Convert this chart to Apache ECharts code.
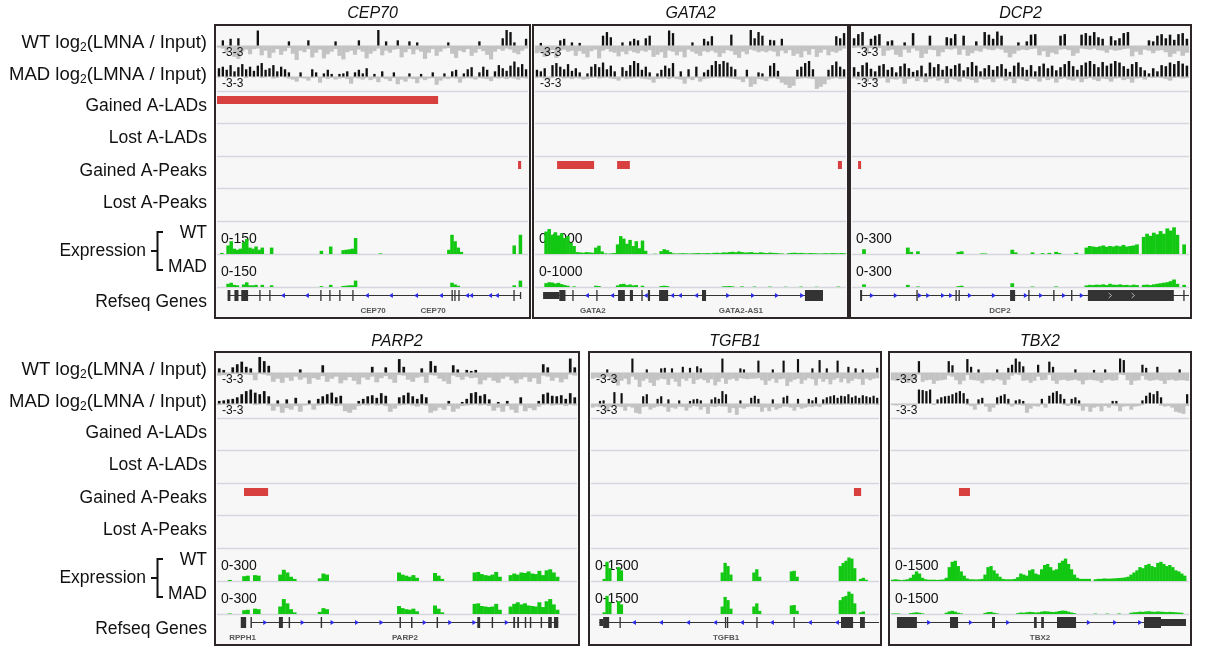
<!DOCTYPE html>
<html>
<head>
<meta charset="utf-8">
<script src="https://cdn.jsdelivr.net/npm/echarts@6/dist/echarts.min.js"></script>
<style>
html,body{margin:0;padding:0;background:#fff;}
#chart{width:1211px;height:646px;}
</style>
</head>
<body>
<div id="chart"></div>
<script>
// ---------------- data ----------------
const geneTitles = ['CEP70', 'GATA2', 'DCP2', 'PARP2', 'TGFB1', 'TBX2'];
const log2Range = [-3, 3];
const log2RangeLabel = '-3-3';
const exprMax = [150, 1000, 300, 300, 1500, 1500];
const exprRangeLabels = ['0-150', '0-1000', '0-300', '0-300', '0-1500', '0-1500'];
const trackNames = ['Gained A-LADs', 'Lost A-LADs', 'Gained A-Peaks', 'Lost A-Peaks'];

// log2(LMNA / Input), 80 windows per locus: positive part and negative part per window
const cep70WtUp = [0,1.0,0,1.3,0,1.4,0,0,0,0, 2.9,0,0,0,0,0,0,0,0.8,0, 0,0,0,1.0,0,0,0,0,0,0, 0.8,0,0,0,0,0,1.0,0,0,0, 0,3.0,0,0.8,0,0,1.0,0,0,0.8, 0,0.6,0,0,0,0,0,0,0,0.6, 0,0,0,0,0,0,0,0.8,0,0, 0,0,0,1.4,3.0,2.6,0.6,0,0,1.3];
const cep70WtDown = [-0.4,-0.6,-1.4,-0.7,-2.2,-2.6,-1.2,-0.8,-1.7,-0.7, -0.6,-1.9,-1.0,-2.4,-1.4,-0.7,-1.8,-1.1,-0.5,-1.6, -2.8,-1.0,-1.3,-0.7,-2.3,-1.4,-0.8,-2.5,-1.7,-1.2, -0.7,-2.0,-2.7,-1.3,-1.0,-1.8,-0.8,-1.2,-2.5,-1.6, -1.1,-0.6,-1.9,-1.0,-1.4,-0.8,-0.7,-2.3,-1.3,-0.7, -1.7,-0.8,-1.2,-2.6,-1.4,-0.7,-2.0,-1.2,-0.6,-0.5, -1.6,-2.4,-1.0,-1.3,-0.7,-2.0,-1.4,-0.7,-1.1,-1.8, -2.7,-1.2,-0.7,-1.0,-0.6,-0.8,-1.4,-1.7,-1.0,-0.6];
const cep70MadUp = [1.6,1.9,1.3,2.2,1.0,1.8,2.4,1.4,1.9,1.1, 2.1,2.6,1.3,1.6,2.2,1.0,1.9,1.4,0.8,0, 0,0.8,0,0,1.4,0.8,0,0.6,1.3,0.5, 0,0.5,0.6,1.0,0,0.8,1.3,0.6,1.6,0, 0.5,0,1.0,0,0,0.8,0,0,0,0.6, 0,0,0.5,0,0,0.8,0,0,0.6,0, 1.0,1.3,0,0.6,1.4,1.8,0,0.8,1.9,1.3, 0,1.0,2.2,1.6,1.1,2.1,2.9,1.8,2.4,1.4];
const cep70MadDown = [-0.2,0,-0.3,0,-0.2,0,0,-0.3,0,-0.2, 0,-0.3,-0.2,0,-0.4,-0.3,0,-0.2,-0.4,-0.6, -1.0,-0.3,-0.4,-0.8,-0.3,-0.2,-1.2,-0.3,-0.5,-0.3, -0.6,-0.4,-0.3,-0.5,-1.4,-0.3,-0.4,-0.6,-0.3,-0.7, -0.4,-1.1,-0.3,-0.5,-0.9,-0.3,-1.5,-0.6,-1.0,-0.4, -0.5,-1.3,-0.4,-0.7,-0.4,-0.3,-1.6,-0.8,-0.4,-0.5, -0.3,-0.4,-1.2,-0.4,-0.3,-0.4,-0.6,-0.3,-0.4,-0.5, -0.9,-0.3,-0.4,-0.3,-0.5,-0.3,-0.4,-0.6,-0.3,-0.4];

const gata2WtUp = [0,0.5,0,0,0,0,1.0,1.3,0,0.6, 0,0.5,0,0,0,0,0,1.9,2.6,1.6, 0,0,0.6,0,0.8,1.3,1.0,0,1.4,1.9, 0,0,0,0,2.9,2.4,0,0,0,0, 0.6,0,0,1.3,0.8,1.8,0,0,0,0, 2.1,0,0,0,0,3.0,1.4,2.6,1.9,0, 1.1,1.0,0,1.3,0,0,0,0,0,0, 0,0,0,0,0,0,0,1.8,1.4,2.4];
const gata2WtDown = [-1.5,-1.2,-2.2,-1.8,-0.9,-2.4,-1.0,-0.8,-1.2,-1.0, -2.0,-1.1,-1.6,-2.3,-1.1,-0.8,-2.5,-1.0,-0.7,-1.2, -1.4,-2.1,-1.2,-1.7,-1.0,-1.3,-1.5,-1.0,-1.2,-0.9, -2.2,-1.8,-1.3,-2.4,-1.0,-1.2,-1.9,-1.2,-2.3,-0.8, -1.2,-1.6,-2.0,-1.1,-1.3,-1.0,-1.4,-2.2,-1.5,-0.9, -1.1,-1.8,-2.4,-1.2,-1.7,-0.8,-1.0,-1.3,-1.1,-1.3, -1.0,-1.2,-2.1,-1.0,-1.5,-0.9,-2.0,-1.6,-2.3,-1.1, -1.8,-0.7,-2.2,-1.4,-0.8,-1.9,-1.2,-1.4,-1.0,-0.6];
const gata2MadUp = [1.3,1.0,1.6,0,2.2,2.6,1.9,1.4,2.4,1.1, 1.6,0.8,0,0.6,1.9,2.4,1.8,2.7,1.4,2.1, 1.0,0,1.8,1.1,2.2,3.0,2.6,1.3,1.9,0.8, 0,0.6,1.3,2.1,1.6,2.6,0,1.0,0,1.4, 0,1.9,0,0.8,1.3,2.2,3.0,2.4,3.0,2.7, 1.9,1.4,0,0,1.3,0,0,0.8,0.6,0, 2.1,2.6,1.1,0,0,0,0,1.3,1.9,2.6, 3.0,1.4,0,0,0,1.3,2.2,2.9,1.9,1.4];
const gata2MadDown = [-0.3,-0.2,-0.4,-0.6,-0.3,0,-0.2,-0.4,-0.3,-0.5, -0.3,-0.4,-0.6,-0.5,-0.3,-0.2,-0.4,-0.3,-0.2,-0.4, -0.5,-0.8,-0.3,-0.5,-0.4,-0.3,-0.2,-0.4,-0.5,-0.6, -1.2,-0.5,-0.4,-0.3,-0.5,-0.3,-0.5,-0.6,-1.4,-0.4, -0.7,-0.3,-1.0,-0.5,-0.4,-0.3,-0.2,-0.3,-0.2,-0.3, -0.4,-0.5,-0.6,-1.1,-0.4,-2.0,-1.5,-0.5,-0.6,-0.9, -0.4,-0.3,-0.5,-1.2,-1.6,-2.2,-1.8,-0.5,-0.4,-0.3, -0.4,-0.5,-2.4,-2.0,-1.5,-0.6,-0.4,-0.3,-0.5,-0.4];

const dcp2WtUp = [1.4,2.2,2.6,0,1.3,1.9,2.2,0,0.8,1.0, 0,0,0.6,0,2.4,0,0,0,1.9,0, 0,0,1.6,1.4,2.2,0,1.9,0,0,0.8, 0,2.6,2.1,1.3,2.7,1.9,0,0,0,0.6, 0,0.8,2.1,2.2,0,0,0,0,0,1.9, 2.2,0,0,0,2.1,2.4,1.9,2.6,1.6,1.3, 0,1.8,1.0,1.4,2.4,2.6,0,0,0,0, 1.0,0.8,1.9,2.2,1.4,2.1,1.1,2.2,2.4,1.3];
const dcp2WtDown = [-0.5,-0.4,-0.6,-1.5,-0.5,-0.6,-0.5,-2.0,-1.0,-0.8, -1.8,-2.2,-0.8,-1.4,-0.6,-1.0,-2.4,-1.6,-0.8,-0.9, -2.1,-1.3,-0.7,-0.8,-0.6,-1.8,-0.8,-2.0,-1.5,-1.0, -1.2,-0.6,-0.8,-0.9,-0.6,-0.8,-1.4,-2.3,-1.6,-1.0, -0.8,-0.9,-0.7,-0.6,-1.9,-1.1,-2.2,-1.4,-1.7,-0.8, -0.7,-0.9,-2.0,-1.5,-0.6,-0.7,-0.8,-0.6,-0.9,-1.0, -1.4,-0.8,-1.0,-0.9,-0.7,-0.6,-2.1,-1.2,-1.8,-0.8, -1.0,-1.5,-1.0,-0.9,-1.3,-2.2,-1.6,-1.1,-2.0,-1.4];
const dcp2MadUp = [1.8,0.9,2.2,2.7,1.5,1.0,2.1,2.4,1.3,1.8, 0.8,2.0,2.5,1.6,0.9,1.2,2.1,0.6,2.7,1.8, 2.4,1.3,2.0,1.5,2.2,2.5,1.2,1.8,2.8,2.1, 1.0,1.6,2.2,1.3,2.0,2.4,1.5,0.9,2.1,2.7, 1.8,1.3,2.2,1.0,2.0,2.5,1.6,2.1,1.2,1.8, 2.4,3.0,2.0,1.3,2.2,2.7,3.0,2.4,1.8,2.8, 2.1,2.5,3.0,2.7,2.0,1.5,2.4,2.8,1.8,1.2, 0.6,1.6,1.0,2.2,2.0,2.7,2.4,3.0,2.5,2.1];
const dcp2MadDown = [-0.4,-0.6,-0.3,-1.0,-0.5,-0.8,-0.4,-0.3,-1.2,-0.5, -0.6,-0.4,-1.4,-0.5,-0.3,-0.9,-0.4,-1.1,-0.5,-0.3, -0.8,-0.5,-1.3,-0.4,-0.6,-1.0,-0.3,-0.5,-0.7,-1.2, -0.4,-0.6,-0.5,-1.1,-0.4,-0.3,-0.8,-0.5,-1.3,-0.4, -0.6,-0.9,-0.4,-0.5,-1.0,-0.3,-0.7,-0.4,-1.2,-0.5, -0.3,-0.6,-0.8,-0.4,-1.1,-0.5,-0.3,-0.6,-0.9,-0.4, -0.5,-1.0,-0.4,-0.3,-0.7,-0.5,-1.2,-0.4,-0.3,-0.6, -0.2,-0.3,-0.2,-0.3,-0.5,-0.8,-0.3,-0.2,-0.4,-0.3];

const parp2WtUp = [0.8,0.5,0,1.0,1.6,2.1,1.1,0.8,0,3.0, 2.2,1.3,0,0,0,0,0,0,0.6,0, 0,0,0,1.4,0,0,0,0,0,0, 0,0,0,0,1.1,0,0,1.0,0,0, 2.6,1.1,0,0,0,0.8,0,2.2,1.3,0, 0,0,1.4,0.6,0,0.5,0.3,0.5,0,0, 0,0,0,0,0,0,0,0,0,0, 0,0,1.6,1.0,0,0,0,0,2.7,1.0];
const parp2WtDown = [-0.6,-0.5,-0.4,-0.3,-0.3,-0.3,-0.4,-0.5,-1.5,-0.3, -0.4,-0.6,-1.8,-1.2,-2.0,-1.0,-1.6,-0.8,-1.4,-1.0, -2.2,-1.1,-1.4,-0.7,-1.8,-1.2,-0.8,-2.1,-1.5,-0.9, -1.6,-2.3,-1.0,-1.4,-0.8,-1.9,-1.1,-0.7,-1.3,-2.0, -0.5,-0.6,-1.4,-1.8,-1.0,-0.8,-2.0,-0.5,-0.6,-1.2, -1.7,-2.2,-0.6,-0.9,-1.4,-0.8,-1.1,-1.0,-2.3,-1.5, -1.0,-1.6,-2.0,-1.2,-0.8,-1.5,-2.1,-1.3,-0.9,-1.8, -1.1,-2.2,-0.6,-0.8,-1.6,-1.0,-1.9,-1.3,-0.4,-0.6];
const parp2MadUp = [0.5,0.6,0.8,0.9,1.2,1.8,2.4,2.7,2.1,1.8, 2.4,1.4,0,0.6,0,0.8,0,1.1,0,0, 0.6,0,0.9,1.4,1.8,2.1,1.2,1.5,0,0, 0,0.5,0.9,1.4,1.6,1.1,2.0,1.5,0,0, 1.2,1.6,2.1,1.4,0.9,1.8,1.2,0,0,0, 0,0.5,0,0,0.3,0.9,2.0,2.2,1.5,1.8, 0.8,0,0.3,0,0.5,0,0,1.2,0,0, 0,0.5,1.8,2.1,1.5,1.4,1.6,0.9,2.0,1.2];
const parp2MadDown = [-0.3,-0.2,-0.3,-0.2,-0.2,0,0,0,-0.3,-0.2, 0,-0.4,-1.4,-0.6,-1.8,-0.9,-1.2,-0.5,-1.6,-0.4, -0.3,-1.2,-0.4,-0.3,-0.2,-0.3,-0.5,-0.4,-1.5,-1.8, -1.2,-0.5,-0.3,-0.4,-0.2,-0.4,-0.3,-0.5,-1.6,-1.0, -0.4,-0.3,-0.2,-0.4,-0.6,-0.3,-0.4,-1.8,-1.4,-0.8, -1.2,-0.5,-1.6,-1.0,-0.5,-0.4,-0.3,-0.2,-0.4,-0.3, -0.5,-1.4,-0.8,-1.6,-0.5,-1.2,-1.8,-0.4,-1.5,-0.9, -1.3,-0.6,-0.3,-0.2,-0.4,-0.3,-0.3,-0.5,-0.3,-0.4];

const tgfb1WtUp = [0,0,0,0,0.6,0,0,0,0,0, 0,2.7,0,0,0,0.6,0,0,0,0.8, 0.9,0,0.8,0,0,1.1,0,0.9,0,1.2, 0.8,0,0,0,0,0,2.7,0,0,0, 0,0.8,0.6,0,0,0,2.3,0,0,0, 0.6,0,0,2.3,0,0,0,2.6,0,0, 0,0.8,0,2.4,0,0.8,0,0,2.3,0, 0,1.1,0,0.8,0,0.6,0,0,0,0.9];
const tgfb1WtDown = [-1.2,-1.0,-1.1,-1.2,-0.8,-1.3,-1.8,-2.5,-1.6,-1.2, -2.3,-0.8,-1.4,-2.8,-1.6,-1.2,-2.0,-2.6,-1.5,-1.2, -1.3,-2.4,-1.2,-1.8,-2.7,-1.2,-1.6,-1.1,-2.2,-1.4, -1.2,-1.5,-2.0,-1.3,-2.5,-1.8,-1.1,-2.2,-1.4,-1.2, -1.6,-1.1,-1.2,-1.3,-1.2,-1.2,-1.1,-1.5,-2.4,-1.6, -1.2,-2.0,-1.3,-1.2,-2.6,-1.8,-1.4,-1.2,-2.2,-1.5, -1.1,-1.3,-2.5,-1.2,-1.8,-1.3,-2.3,-1.4,-1.1,-1.9, -1.2,-2.1,-1.6,-1.2,-1.3,-2.4,-1.2,-1.5,-1.2,-1.1];
const tgfb1MadUp = [0,0,0.5,0.6,0,0,2.2,0,2.0,0, 0,0,0,0,1.4,1.8,0,0,0.9,1.4, 0,0.8,0,0,0.6,0,0,0.5,0.8,0.9, 0.6,0,0,0.8,1.2,0.9,2.4,1.8,0,0, 0,0.6,0,0,1.1,1.5,0.9,0,0,0, 0.8,0,0,1.2,1.5,0,0,0.9,0,0, 0.9,0.6,1.2,0,0.8,1.2,1.4,1.6,1.1,1.5, 1.4,1.8,1.2,1.5,1.1,1.6,1.4,1.2,1.5,1.1];
const tgfb1MadDown = [-0.8,-0.6,-0.7,-0.6,-1.5,-0.7,-0.5,-0.6,-0.7,-1.4, -0.6,-0.8,-1.8,-2.0,-0.7,-0.6,-1.2,-0.8,-0.6,-0.5, -0.7,-1.6,-0.8,-1.0,-0.6,-0.7,-1.4,-0.8,-0.5,-0.6, -1.2,-0.7,-2.0,-0.6,-0.7,-0.5,-0.6,-0.6,-1.8,-0.9, -2.2,-0.8,-1.0,-0.7,-0.6,-0.6,-0.7,-1.6,-0.8,-1.5, -0.7,-1.2,-0.9,-0.6,-0.6,-0.8,-1.4,-0.7,-1.0,-0.8, -0.6,-0.7,-0.5,-0.7,-0.3,-0.3,-0.2,-0.3,-0.2,-0.3, -0.2,-0.2,-0.3,-0.2,-0.3,-0.2,-0.3,-0.2,-0.2,-0.3];

const tbx2WtUp = [0,0,0,0,0,0,0,2.2,0,0, 0,0,0,0,0,2.2,1.4,0,0,0, 2.6,1.1,0,0.6,0,0,0,0,0.6,0, 0,0.9,1.5,2.7,2.1,1.2,0,0,0,1.5, 0,0,2.1,1.1,0,0,0,0,0,0.6, 0,0,0,0,0.5,0,0,0.6,0,0, 0,2.7,2.4,0,0,0,0,1.5,0.9,0, 0,1.1,0,0,0,0,0,0.6,0,0];
const tbx2WtDown = [-1.5,-1.6,-1.4,-1.5,-2.0,-1.6,-1.4,-0.4,-1.8,-1.5, -1.4,-2.2,-1.6,-1.5,-1.4,-0.6,-0.8,-1.5,-2.3,-1.6, -0.5,-1.4,-1.5,-1.6,-2.1,-1.5,-1.4,-1.6,-1.3,-1.5, -2.4,-1.4,-0.6,-0.3,-0.5,-1.6,-1.5,-2.0,-1.6,-0.8, -1.5,-1.4,-0.5,-1.6,-2.2,-1.5,-1.4,-1.6,-1.5,-1.4, -1.6,-2.3,-1.5,-1.4,-1.5,-1.6,-2.0,-1.5,-1.4,-1.6, -1.5,-0.4,-0.5,-1.5,-2.4,-1.6,-1.5,-0.7,-1.4,-1.6, -1.5,-1.4,-1.6,-2.2,-1.5,-1.4,-1.6,-1.5,-1.5,-1.6];
const tbx2MadUp = [0,0,0,0,0,0,0,2.7,2.6,2.4, 2.7,0,0.8,1.2,1.4,1.5,1.8,2.1,2.4,2.0, 0.9,0,0,0.8,1.1,0,0,0,1.2,1.5, 1.8,0.9,0,0.6,0.8,0.5,0,0,0,0, 0.9,0,1.5,2.1,2.4,1.8,0.9,0,0.9,1.2, 0.6,0,0,0,0,0,0,0,0,0.5, 0.5,0,0,0,0,0,0,0.6,1.5,2.1, 1.8,2.4,1.2,0,0,0,0,0,0,1.8];
const tbx2MadDown = [-0.3,-0.4,-0.3,-0.2,-0.4,-0.3,-0.5,0,0,0, 0,-0.3,0,0,0,0,0,0,0,0, -0.3,-0.5,-1.2,-0.3,0,-0.6,-1.6,-0.8,-0.3,0, 0,-0.3,-0.6,-0.3,-0.3,-0.4,-1.8,-1.0,-0.5,-0.6, -0.3,-0.8,0,0,0,0,-0.3,-0.5,-0.3,-0.4, -0.5,-1.4,-0.6,-1.6,-0.8,-0.6,-1.5,-0.5,-0.8,-0.4, -0.5,-1.5,-0.6,-0.5,-1.2,-0.6,-0.5,-0.3,0,0, 0,0,-0.4,-0.6,-0.5,-0.8,-1.6,-1.8,-2.0,-0.5];

// RNA-seq coverage: [bin (0-99 across the locus), reads]
const cep70ExprWT = [[1,5],[3,40],[4,60],[5,25],[6,20],[7,25],[8,55],[9,70],[10,30],[11,25],[12,35],[13,20],[14,30],[17,30],[33,15],[36,35],[40,18],[41,20],[42,22],[43,25],[44,75],[52,3],[74,20],[75,90],[76,60],[77,30],[78,10],[95,40],[97,90]];
const cep70ExprMAD = [[3,15],[4,20],[5,10],[6,8],[8,12],[9,22],[10,8],[11,8],[12,10],[14,10],[17,8],[33,4],[36,10],[40,5],[41,6],[42,8],[43,8],[44,30],[75,20],[76,12],[77,6],[95,8],[97,30]];
const gata2ExprWT = [[3,700],[4,780],[5,600],[6,680],[7,580],[8,650],[9,500],[10,560],[11,350],[12,250],[13,60],[14,50],[15,40],[16,60],[17,50],[18,40],[19,200],[20,260],[21,80],[22,20],[23,10],[24,20],[25,30],[26,300],[27,560],[28,480],[29,320],[30,440],[31,250],[32,400],[33,180],[34,420],[35,100],[38,10],[40,90],[41,150],[42,120],[43,60],[44,20],[45,15],[46,20],[47,25],[48,20],[49,15],[50,20],[51,25],[52,30],[53,20],[54,25],[55,30],[56,20],[57,35],[58,40],[59,30],[60,50],[61,45],[62,60],[63,70],[64,55],[65,80],[66,60],[67,45],[68,50],[69,60],[70,40],[71,35],[72,55],[73,40],[74,30],[75,45],[76,35],[77,30],[78,20],[79,15],[81,25],[82,35],[83,40],[84,30],[85,35],[86,25],[87,20],[88,30],[89,25],[90,20],[91,15],[92,20],[93,25],[94,20],[95,30],[96,25],[97,20],[98,30],[99,20]];
const gata2ExprMAD = [[3,120],[4,150],[5,140],[6,110],[7,130],[8,90],[9,60],[10,40],[12,20],[19,40],[20,30],[26,50],[27,90],[28,100],[29,60],[30,80],[31,50],[32,60],[34,40],[40,30],[41,40],[42,30],[60,20],[61,25],[62,30],[63,20],[66,20],[70,15],[75,15],[80,10],[85,15],[90,10],[97,15]];
const dcp2ExprWT = [[3,45],[16,60],[17,20],[19,25],[31,20],[32,25],[38,5],[39,5],[47,40],[48,15],[53,15],[56,8],[58,10],[60,20],[61,10],[66,12],[69,60],[70,75],[71,70],[72,65],[73,72],[74,80],[75,68],[76,75],[77,70],[78,78],[79,72],[80,85],[81,70],[82,75],[83,80],[84,90],[86,160],[87,190],[88,170],[89,200],[90,185],[91,215],[92,190],[93,240],[94,220],[95,250],[96,180],[98,90]];
const dcp2ExprMAD = [[3,25],[16,20],[19,5],[31,8],[32,12],[47,35],[53,5],[60,6],[69,15],[70,20],[71,18],[72,22],[73,20],[74,25],[75,18],[76,30],[77,22],[78,20],[79,25],[80,18],[81,20],[82,15],[83,22],[84,18],[86,20],[87,22],[88,18],[89,25],[90,30],[91,35],[92,40],[93,45],[94,55],[95,70],[96,30],[98,20]];
const parp2ExprWT = [[3,10],[7,45],[8,50],[10,55],[11,50],[17,60],[18,105],[19,80],[20,40],[21,20],[28,25],[29,70],[30,60],[50,80],[51,60],[52,50],[53,40],[54,55],[55,30],[60,75],[61,50],[62,20],[71,80],[72,85],[73,65],[74,55],[75,50],[76,60],[77,85],[78,40],[81,55],[82,70],[83,60],[84,80],[85,75],[86,90],[87,70],[88,65],[89,95],[90,55],[91,100],[92,110],[93,80],[94,40]];
const parp2ExprMAD = [[3,5],[7,35],[8,40],[10,50],[11,45],[17,70],[18,140],[19,100],[20,45],[21,15],[28,20],[29,55],[30,45],[50,75],[51,55],[52,45],[53,40],[54,50],[55,25],[60,80],[61,50],[62,15],[71,95],[72,100],[73,75],[74,70],[75,65],[76,70],[77,95],[78,40],[81,70],[82,95],[83,110],[84,90],[85,100],[86,80],[87,75],[88,70],[89,110],[90,65],[91,120],[92,140],[93,90],[94,40]];
const tgfb1ExprWT = [[4,100],[5,900],[6,600],[9,650],[10,500],[45,400],[46,850],[47,700],[48,300],[56,400],[57,550],[58,200],[69,450],[70,480],[71,200],[86,700],[87,850],[88,950],[89,1100],[90,1050],[91,600],[93,100],[94,150],[95,60]];
const tgfb1ExprMAD = [[4,80],[5,850],[6,550],[9,600],[10,450],[45,350],[46,800],[47,650],[48,250],[56,350],[57,500],[58,150],[69,400],[70,420],[71,150],[86,650],[87,800],[88,850],[89,1050],[90,950],[91,500],[93,80],[94,120]];
const tbx2ExprWT = [[0,60],[1,80],[2,60],[3,40],[4,60],[5,80],[6,150],[7,300],[8,450],[9,350],[10,150],[11,80],[12,60],[13,60],[14,60],[15,50],[16,60],[17,70],[18,150],[19,650],[20,900],[21,950],[22,700],[23,450],[24,250],[25,120],[26,80],[27,80],[28,70],[29,80],[30,100],[31,300],[32,650],[33,700],[34,500],[35,350],[36,200],[37,100],[38,80],[39,80],[40,80],[41,100],[42,180],[43,350],[44,300],[45,250],[46,500],[47,550],[48,350],[49,300],[50,550],[51,750],[52,800],[53,650],[54,500],[55,550],[56,850],[57,950],[58,1050],[59,800],[60,550],[61,300],[62,150],[63,100],[64,100],[65,100],[66,100],[68,80],[69,100],[70,100],[71,120],[72,110],[73,110],[74,120],[75,130],[76,140],[77,150],[78,170],[79,200],[80,300],[81,400],[82,500],[83,650],[84,600],[85,750],[86,800],[87,700],[88,650],[89,850],[90,900],[91,800],[92,700],[93,750],[94,650],[95,500],[96,450],[97,350],[98,250]];
const tbx2ExprMAD = [[0,20],[1,25],[2,20],[6,40],[7,60],[8,80],[9,60],[10,30],[18,60],[19,120],[20,150],[21,110],[22,60],[23,30],[31,50],[32,90],[33,100],[34,60],[35,30],[42,40],[43,70],[44,60],[45,80],[46,100],[47,90],[48,70],[49,80],[50,110],[51,130],[52,120],[53,100],[54,90],[55,110],[56,140],[57,160],[58,150],[59,110],[60,70],[61,40],[68,20],[72,20],[76,25],[80,60],[81,80],[82,90],[83,110],[84,100],[85,120],[86,130],[87,110],[88,100],[89,120],[90,110],[91,100],[92,90],[93,100],[94,90],[95,80],[96,70],[97,60]];

// differential A-LAD / A-peak calls: [start, end] in locus percent
const cep70GainedLads = [[0, 71.1]];
const cep70GainedPeaks = [[96.8, 97.8]];
const gata2GainedPeaks = [[7.1, 19.0], [26.4, 30.5], [97.4, 98.7]];
const dcp2GainedPeaks = [[1.8, 2.7]];
const parp2GainedPeaks = [[7.5, 14.2]];
const tgfb1GainedPeaks = [[91.3, 93.8]];
const tbx2GainedPeaks = [[22.8, 26.5]];

// RefSeq gene models (locus percent). exons: [start, end, coding(1)/UTR(0)], arrows: [pos, strand]
const cep70Introns = [[3.5, 97.7]];
const cep70Exons = [[3.4,4.3,1],[5.6,6.9,1],[7.8,10.0,1],[13.6,14.0,1],[16.8,17.2,1],[33.2,33.6,1],[36.1,36.5,1],[39.3,39.7,1],[43.5,43.9,1],[75.4,75.8,1],[76.3,76.7,1],[77.6,78.0,1],[95.3,95.7,1],[97.4,97.8,0]];
const cep70Arrows = [[21.2,-1],[28.9,-1],[48.2,-1],[55.9,-1],[64.0,-1],[72.0,-1],[80.4,-1],[81.7,-1],[87.8,-1],[90.0,-1]];
const cep70GeneLabels = [[50.2,'CEP70'],[69.5,'CEP70']];

const gata2Introns = [[2.6, 92.6]];
const gata2Exons = [[2.6,7.8,0],[7.8,9.8,1],[12.0,12.4,1],[19.7,20.1,1],[26.7,28.9,1],[30.5,31.5,1],[34.2,34.6,1],[36.3,37.0,1],[39.9,42.8,1],[53.7,55.0,1],[86.8,92.6,1]];
const gata2Arrows = [[16.7,-1],[24.8,-1],[35.6,-1],[44.1,-1],[46.6,-1],[51.8,-1],[62.1,1],[70.1,1],[77.8,1],[85.9,1]];
const gata2GeneLabels = [[18.6,'GATA2'],[66.2,'GATA2-AS1']];

const dcp2Introns = [[2.4, 100]];
const dcp2Exons = [[2.4,3.0,1],[19.1,19.5,1],[30.7,31.1,1],[31.6,32.0,1],[46.9,48.4,1],[52.3,52.7,1],[59.7,60.1,1],[65.0,65.4,1],[70.0,95.5,1],[98.3,98.7,1]];
const dcp2Arrows = [[5.9,1],[13.0,1],[20.2,1],[22.6,1],[27.0,1],[29.4,1],[35.0,1],[42.1,1],[51.6,1],[56.1,1],[62.9,1],[68.2,1]];
const dcp2ExonArrows = [[76.6,1],[83.4,1]];
const dcp2GeneLabels = [[43.9,'DCP2']];

const parp2Introns = [[9.5, 94.8]];
const parp2Exons = [[6.6,8.1,1],[9.3,9.7,1],[17.2,18.3,1],[19.9,20.3,1],[28.8,29.2,1],[50.7,51.1,1],[53.9,54.3,1],[61.0,61.4,1],[72.3,73.1,1],[76.3,76.7,1],[82.3,82.8,1],[83.4,83.9,1],[85.5,85.9,1],[86.9,87.3,1],[89.9,90.3,1],[92.0,93.0,1],[93.6,94.8,1]];
const parp2Arrows = [[13.4,1],[23.8,1],[32.1,1],[38.9,1],[45.7,1],[57.7,1],[64.8,1],[71.5,1],[80.5,1]];
const parp2GeneLabels = [[7.1,'RPPH1'],[52.2,'PARP2']];

const tgfb1Introns = [[2.9, 100]];
const tgfb1Exons = [[2.9,4.2,0],[4.2,6.3,1],[9.9,10.3,1],[46.5,46.9,1],[47.2,47.6,1],[57.4,57.8,1],[70.3,70.7,1],[86.8,91.0,1],[93.4,95.1,1]];
const tgfb1Arrows = [[14.9,-1],[24.3,-1],[33.7,-1],[43.1,-1],[52.4,-1],[62.8,-1],[76.0,-1],[85.4,-1]];
const tgfb1GeneLabels = [[46.9,'TGFB1']];

const tbx2Introns = [[2.0, 98.7]];
const tbx2Exons = [[2.0,8.7,1],[19.8,22.5,1],[33.9,34.9,1],[48.0,48.9,1],[50.4,51.3,1],[55.7,62.1,1],[84.9,90.6,1],[90.6,99.0,0]];
const tbx2Arrows = [[12.8,1],[26.8,1],[39.3,1],[66.4,1],[75.2,1],[83.6,1]];
const tbx2GeneLabels = [[50.0,'TBX2']];

// ---------------- layout ----------------
const FONT = '"Liberation Sans", Arial, Helvetica, sans-serif';
const rows = [{ top: 25, bottom: 318, titleY: 14 }, { top: 352, bottom: 645, titleY: 342 }];
// track tops relative to a row's frame top; last entry is the end of the gene track
const trackOff = [3, 35, 66, 98, 131, 163, 196, 229, 262, 291];

const panels = [
  { row: 0, x0: 215, x1: 530, log2: [cep70WtUp, cep70WtDown, cep70MadUp, cep70MadDown], expr: [cep70ExprWT, cep70ExprMAD],
    feats: [cep70GainedLads, [], cep70GainedPeaks, []], gene: { introns: cep70Introns, exons: cep70Exons, arrows: cep70Arrows, labels: cep70GeneLabels } },
  { row: 0, x0: 533, x1: 848, log2: [gata2WtUp, gata2WtDown, gata2MadUp, gata2MadDown], expr: [gata2ExprWT, gata2ExprMAD],
    feats: [[], [], gata2GainedPeaks, []], gene: { introns: gata2Introns, exons: gata2Exons, arrows: gata2Arrows, labels: gata2GeneLabels } },
  { row: 0, x0: 850, x1: 1191, log2: [dcp2WtUp, dcp2WtDown, dcp2MadUp, dcp2MadDown], expr: [dcp2ExprWT, dcp2ExprMAD],
    feats: [[], [], dcp2GainedPeaks, []], gene: { introns: dcp2Introns, exons: dcp2Exons, arrows: dcp2Arrows, exonArrows: dcp2ExonArrows, labels: dcp2GeneLabels } },
  { row: 1, x0: 215, x1: 579, log2: [parp2WtUp, parp2WtDown, parp2MadUp, parp2MadDown], expr: [parp2ExprWT, parp2ExprMAD],
    feats: [[], [], parp2GainedPeaks, []], gene: { introns: parp2Introns, exons: parp2Exons, arrows: parp2Arrows, labels: parp2GeneLabels } },
  { row: 1, x0: 589, x1: 881, log2: [tgfb1WtUp, tgfb1WtDown, tgfb1MadUp, tgfb1MadDown], expr: [tgfb1ExprWT, tgfb1ExprMAD],
    feats: [[], [], tgfb1GainedPeaks, []], gene: { introns: tgfb1Introns, exons: tgfb1Exons, arrows: tgfb1Arrows, labels: tgfb1GeneLabels } },
  { row: 1, x0: 889, x1: 1191, log2: [tbx2WtUp, tbx2WtDown, tbx2MadUp, tbx2MadDown], expr: [tbx2ExprWT, tbx2ExprMAD],
    feats: [[], [], tbx2GainedPeaks, []], gene: { introns: tbx2Introns, exons: tbx2Exons, arrows: tbx2Arrows, labels: tbx2GeneLabels } }
];

const COLORS = { up: '#111111', down: '#c3c3c3', expr: '#12c812', feat: '#d7403f', gene: '#333333', arrow: '#2a2ae6', sep: '#d6d6de', bg: '#f7f7f7', frame: '#2d2626' };

const grid = [], xAxis = [], yAxis = [], series = [], graphics = [];

function addGrid(left, top, width, height, xCfg, yCfg) {
  const i = grid.length;
  grid.push({ left, top, width, height, containLabel: false });
  xAxis.push(Object.assign({ gridIndex: i, show: false }, xCfg));
  yAxis.push(Object.assign({ gridIndex: i, show: false }, yCfg));
  return i;
}

// coverage bin: bar from bin to bin+1
function binRect(color, max) {
  return function (params, api) {
    const b = api.value(0), v = Math.min(api.value(1), max);
    const a = api.coord([b, v]), c = api.coord([b + 1, 0]);
    return { type: 'rect', shape: { x: a[0], y: a[1], width: c[0] - a[0] + 0.4, height: c[1] - a[1] }, style: { fill: color } };
  };
}
// log2 window bar centred on its window index; frac = share of the window width
function windowBar(color, frac) {
  return function (params, api) {
    const j = api.value(0), v = api.value(1);
    if (!v) return null;
    const a = api.coord([j - frac / 2, v]), b = api.coord([j + frac / 2, 0]);
    return { type: 'rect', shape: { x: a[0], y: Math.min(a[1], b[1]), width: b[0] - a[0], height: Math.abs(b[1] - a[1]) }, style: { fill: color } };
  };
}

panels.forEach(function (p, pi) {
  const R = rows[p.row];
  const ix0 = p.x0 + 2, ix1 = p.x1 - 2, w = ix1 - ix0;
  const tt = trackOff.map(o => R.top + o);

  // panel background + separators
  graphics.push({ type: 'rect', z: 0, shape: { x: p.x0, y: R.top, width: p.x1 - p.x0, height: R.bottom - R.top }, style: { fill: COLORS.bg } });
  [2, 3, 4, 5, 6, 7, 8].forEach(function (k) {
    graphics.push({ type: 'line', z: 1, shape: { x1: ix0, y1: tt[k] + 0.5, x2: ix1, y2: tt[k] + 0.5 }, style: { stroke: COLORS.sep, lineWidth: 1.5 } });
  });
  // title
  graphics.push({ type: 'text', z: 5, x: (p.x0 + p.x1) / 2, y: R.titleY,
    style: { text: geneTitles[pi], font: 'italic 16px ' + FONT, fill: '#111', align: 'center', verticalAlign: 'middle' } });

  // log2 tracks
  [0, 1].forEach(function (k) {
    const top = tt[k] + (k === 0 ? 2 : 1), h = 31;
    const up = p.log2[2 * k], down = p.log2[2 * k + 1];
    const gi = addGrid(ix0, top, w, h,
      { type: 'value', min: -0.5, max: up.length - 0.5 },
      { type: 'value', min: log2Range[0], max: log2Range[1] });
    series.push({ type: 'custom', xAxisIndex: gi, yAxisIndex: gi, data: down.map((v, j) => [j, v]),
      renderItem: windowBar(COLORS.down, 1.08), silent: true, animation: false, z: 2 });
    series.push({ type: 'custom', xAxisIndex: gi, yAxisIndex: gi, data: up.map((v, j) => [j, v]),
      renderItem: windowBar(COLORS.up, 0.6), silent: true, animation: false, z: 3 });
    graphics.push({ type: 'text', z: 20, x: ix0 + 5, y: top + h / 2 + 7,
      style: { text: log2RangeLabel, font: '12px ' + FONT, fill: '#111', align: 'left', verticalAlign: 'middle' } });
  });

  // expression tracks
  [0, 1].forEach(function (k) {
    const top = tt[6 + k] + 1, h = tt[7 + k] - tt[6 + k] - 1;
    const gi = addGrid(ix0, top, w, h, { type: 'value', min: 0, max: 100 }, { type: 'value', min: 0, max: exprMax[pi] });
    series.push({ type: 'custom', xAxisIndex: gi, yAxisIndex: gi, data: p.expr[k], renderItem: binRect(COLORS.expr, exprMax[pi]),
      silent: true, animation: false, z: 3 });
    graphics.push({ type: 'text', z: 1, x: ix0 + 4, y: top + 17,
      style: { text: exprRangeLabels[pi], font: '14px ' + FONT, fill: '#111', align: 'left', verticalAlign: 'middle' } });
  });

  // feature + gene tracks share one positional grid spanning the panel
  const gp = addGrid(ix0, R.top, w, R.bottom - R.top, { type: 'value', min: 0, max: 100 }, { type: 'value', min: 0, max: 1 });
  p.feats.forEach(function (list, fi) {
    const yTop = tt[2 + fi] + 5;
    series.push({ type: 'custom', xAxisIndex: gp, yAxisIndex: gp, data: list, silent: true, animation: false, z: 3,
      renderItem: function (params, api) {
        const s = api.coord([api.value(0), 0])[0], e = api.coord([api.value(1), 0])[0];
        return { type: 'rect', shape: { x: s, y: yTop, width: Math.max(e - s, 2.5), height: 8 }, style: { fill: COLORS.feat } };
      } });
  });

  const gy = tt[8] + 8.5;
  const g = p.gene;
  series.push({ type: 'custom', xAxisIndex: gp, yAxisIndex: gp, data: g.introns, silent: true, animation: false, z: 3,
    renderItem: function (params, api) {
      const s = api.coord([api.value(0), 0])[0], e = api.coord([api.value(1), 0])[0];
      return { type: 'line', shape: { x1: s, y1: gy, x2: Math.min(e, ix1), y2: gy }, style: { stroke: COLORS.gene, lineWidth: 1 } };
    } });
  series.push({ type: 'custom', xAxisIndex: gp, yAxisIndex: gp, data: g.arrows, silent: true, animation: false, z: 3,
    renderItem: function (params, api) {
      const x = api.coord([api.value(0), 0])[0], d = api.value(1);
      return { type: 'polygon', shape: { points: [[x + 2 * d, gy], [x - 2 * d, gy - 2.5], [x - 2 * d, gy + 2.5]] }, style: { fill: COLORS.arrow } };
    } });
  series.push({ type: 'custom', xAxisIndex: gp, yAxisIndex: gp, data: g.exons, silent: true, animation: false, z: 4,
    renderItem: function (params, api) {
      const s = api.coord([api.value(0), 0])[0], e = api.coord([api.value(1), 0])[0];
      const hh = api.value(2) ? 5.5 : 3.5;
      const wd = Math.max(e - s, 1.3);
      return { type: 'rect', shape: { x: s, y: gy - hh, width: wd, height: 2 * hh }, style: { fill: COLORS.gene } };
    } });
  if (g.exonArrows) {
    series.push({ type: 'custom', xAxisIndex: gp, yAxisIndex: gp, data: g.exonArrows, silent: true, animation: false, z: 5,
      renderItem: function (params, api) {
        const x = api.coord([api.value(0), 0])[0], d = api.value(1);
        return { type: 'polyline', shape: { points: [[x - 1.5 * d, gy - 2.5], [x + 1.5 * d, gy], [x - 1.5 * d, gy + 2.5]] }, style: { stroke: '#b0b0b0', lineWidth: 1, fill: null } };
      } });
  }
  series.push({ type: 'custom', xAxisIndex: gp, yAxisIndex: gp, data: g.labels.map(l => [l[0]]), silent: true, animation: false, z: 4,
    renderItem: function (params, api) {
      const x = api.coord([api.value(0), 0])[0];
      return { type: 'text', x: x, y: tt[8] + 24, style: { text: g.labels[params.dataIndex][1], font: 'bold 8px ' + FONT, fill: '#555', align: 'center', verticalAlign: 'middle' } };
    } });

  // frame on top
  graphics.push({ type: 'rect', z: 30, shape: { x: p.x0, y: R.top, width: p.x1 - p.x0, height: R.bottom - R.top },
    style: { fill: null, stroke: COLORS.frame, lineWidth: 2 } });
});

// row labels on the left
const labelRich = {
  n: { fontSize: 18.5, fontFamily: FONT, fill: '#111' },
  s: { fontSize: 12, fontFamily: FONT, fill: '#111', padding: [10, 0, 0, 0] }
};
rows.forEach(function (R) {
  const tt = trackOff.map(o => R.top + o);
  const mid = k => (tt[k] + tt[k + 1]) / 2;
  const RX = 207;
  const LF = '17.5px ' + FONT;
  graphics.push({ type: 'text', z: 5, x: RX, y: mid(0) - 1, style: { text: '{n|WT log}{s|2}{n|(LMNA / Input)}', rich: labelRich, align: 'right', verticalAlign: 'middle' } });
  graphics.push({ type: 'text', z: 5, x: RX, y: mid(1) - 1, style: { text: '{n|MAD log}{s|2}{n|(LMNA / Input)}', rich: labelRich, align: 'right', verticalAlign: 'middle' } });
  trackNames.forEach(function (t, k) {
    graphics.push({ type: 'text', z: 5, x: RX, y: mid(2 + k) - 1, style: { text: t, font: LF, fill: '#111', align: 'right', verticalAlign: 'middle' } });
  });
  graphics.push({ type: 'text', z: 5, x: RX, y: mid(6) - 4, style: { text: 'WT', font: LF, fill: '#111', align: 'right', verticalAlign: 'middle' } });
  graphics.push({ type: 'text', z: 5, x: RX, y: mid(7) - 3, style: { text: 'MAD', font: LF, fill: '#111', align: 'right', verticalAlign: 'middle' } });
  const cy = tt[7] - 3;
  graphics.push({ type: 'text', z: 5, x: 146, y: cy, style: { text: 'Expression', font: LF, fill: '#111', align: 'right', verticalAlign: 'middle' } });
  graphics.push({ type: 'polyline', z: 5, shape: { points: [[163, cy - 19], [157.5, cy - 19], [157.5, cy + 19], [163, cy + 19]] }, style: { stroke: '#111', lineWidth: 2, fill: null } });
  graphics.push({ type: 'line', z: 5, shape: { x1: 151, y1: cy, x2: 157.5, y2: cy }, style: { stroke: '#111', lineWidth: 2 } });
  graphics.push({ type: 'text', z: 5, x: RX, y: mid(8) + 1, style: { text: 'Refseq Genes', font: LF, fill: '#111', align: 'right', verticalAlign: 'middle' } });
});

const chart = echarts.init(document.getElementById('chart'), null, { renderer: 'canvas' });
chart.setOption({
  animation: false,
  backgroundColor: '#ffffff',
  grid: grid,
  xAxis: xAxis,
  yAxis: yAxis,
  series: series,
  graphic: { elements: graphics }
});
</script>
</body>
</html>
